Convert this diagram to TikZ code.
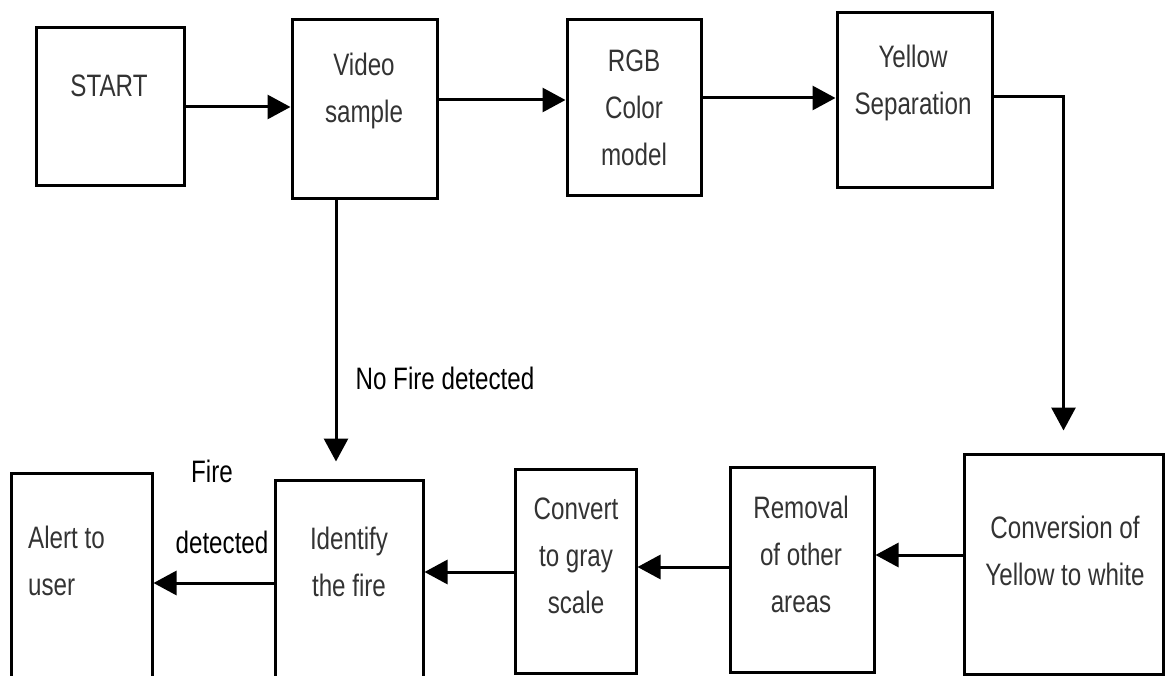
\documentclass[tikz,border=0pt]{standalone}
\usepackage{fontspec}
\setmainfont{Liberation Sans}[FakeStretch=0.78]
\usetikzlibrary{arrows.meta}

\definecolor{inkgray}{HTML}{333333}

\tikzset{
  stepbox/.style={draw=black, line width=3pt, inner sep=0pt},
  boxtext/.style={text=inkgray, align=center, font=\fontsize{31}{47}\selectfont, inner sep=0pt},
  edgetext/.style={text=black, font=\fontsize{31}{47}\selectfont, inner sep=0pt},
  flow/.style={draw=black, line width=3pt, -{Triangle[length=23pt,width=24pt]}},
}

\begin{document}
\begin{tikzpicture}[x=1pt, y=-1pt]
  \useasboundingbox (0,0) rectangle (1165,676);
  \clip (0,0) rectangle (1165,676);

  % process boxes
  \node[stepbox, minimum width=148pt, minimum height=158pt] (start)    at (110,107)    {};
  \node[stepbox, minimum width=145pt, minimum height=179pt] (video)    at (364.5,109.5){};
  \node[stepbox, minimum width=134pt, minimum height=176pt] (rgb)      at (634,108)    {};
  \node[stepbox, minimum width=155pt, minimum height=175pt] (yellow)   at (914.5,100.5){};
  \node[stepbox, minimum width=199pt, minimum height=220pt] (conv)     at (1063.5,564) {};
  \node[stepbox, minimum width=144pt, minimum height=205pt] (removal)  at (802,569.5)  {};
  \node[stepbox, minimum width=121pt, minimum height=204pt] (gray)     at (575.5,571)  {};
  \node[stepbox, minimum width=148pt, minimum height=212pt] (identify) at (349,586)    {};
  \node[stepbox, minimum width=141pt, minimum height=216pt] (alert)    at (81.5,581)   {};

  % box captions
  \node[boxtext] (startT)    at (109,86)   {START};
  \node[boxtext] (videoT)    at (364,91)   {Video\\sample};
  \node[boxtext] (rgbT)      at (634,108)  {RGB\\Color\\model};
  \node[boxtext] (yellowT)   at (913,83)   {Yellow\\Separation};
  \node[boxtext] (convT)     at (1065,551) {Conversion of\\Yellow to white};
  \node[boxtext] (removalT)  at (801,554)  {Removal\\of other\\areas};
  \node[boxtext] (grayT)     at (576,556)  {Convert\\to gray\\scale};
  \node[boxtext] (identifyT) at (349,562)  {Identify\\the fire};
  \node[boxtext, align=left, anchor=west] (alertT) at (28,561) {Alert to\\user};

  % connector labels
  \node[edgetext] (nofire)   at (445,378) {No Fire detected};
  \node[edgetext] (fireA)    at (212,471) {Fire};
  \node[edgetext] (fireB)    at (222,542) {detected};

  % connectors
  \draw[flow] (start.east) -- (start.east -| video.west);
  \draw[flow] (video.east |- 0,100) -- (rgb.west |- 0,100);
  \draw[flow] (rgb.east |- 0,98) -- (yellow.west |- 0,98);
  \draw[flow, shorten >=22pt] (yellow.east |- 0,97) -| (conv.north);
  \draw[flow] (conv.west |- 0,555) -- (removal.east |- 0,555);
  \draw[flow] (removal.west |- 0,567) -- (gray.east |- 0,567);
  \draw[flow] (gray.west |- 0,572) -- (identify.east |- 0,572);
  \draw[flow] (identify.west |- 0,583) -- (alert.east |- 0,583);
  \draw[flow, shorten >=17pt] (video.south -| 336,0) -- (identify.north -| 336,0);
\end{tikzpicture}
\end{document}
